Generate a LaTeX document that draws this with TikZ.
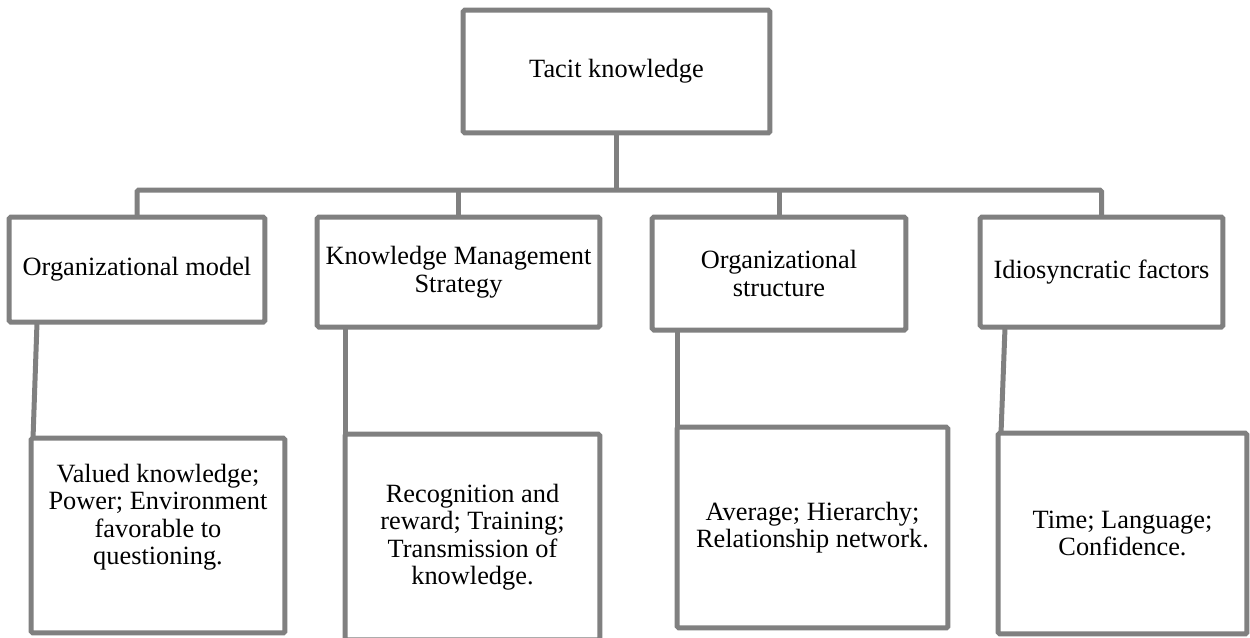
\documentclass[tikz,border=0pt]{standalone}
\usepackage{fontspec}
\setmainfont{Liberation Serif}
\usetikzlibrary{positioning}

\definecolor{boxgray}{RGB}{128,128,128}

\tikzset{
  box/.style={draw=boxgray,line width=0.1cm,rounded corners=1pt,fill=white,
    align=center,inner sep=0pt,outer sep=0pt,font=\fontsize{15}{15.6}\selectfont},
  boxtext/.style={align=center,inner sep=0pt,font=\fontsize{15}{15.6}\selectfont},
  link/.style={draw=boxgray,line width=0.1cm,rounded corners=1pt}
}

\begin{document}
\begin{tikzpicture}[x=0.02cm,y=-0.02cm]
    \useasboundingbox (0,0) rectangle (1250,637);

    \node[box,minimum width=6.14cm,minimum height=2.46cm] (tacit) at (616.5,71.5) {Tacit knowledge};

    % second row
    \node[box,minimum width=5.12cm,minimum height=2.1cm] (model) at (137,269.5) {Organizational model};
    \node[box,minimum width=5.66cm,minimum height=2.2cm] (strategy) at (458.5,272) {Knowledge Management\\Strategy};
    \node[box,minimum width=5.08cm,minimum height=2.26cm] (structure) at (779,273.5) {Organizational\\structure};
    \node[box,minimum width=4.86cm,minimum height=2.2cm] (factors) at (1101.5,272) {Idiosyncratic factors};

    % third row
    \node[box,minimum width=5.08cm,minimum height=3.9cm] (modelItems) at (158,535.5) {};
    \node[boxtext] (modelText) at (158,517) {Valued knowledge;\\Power; Environment\\favorable to\\questioning.};
    \node[box,minimum width=5.1cm,minimum height=4.12cm] (strategyItems) at (472.5,537) {Recognition and\\reward; Training;\\Transmission of\\knowledge.};
    \node[box,minimum width=5.42cm,minimum height=4.02cm] (structureItems) at (812.5,527.5) {Average; Hierarchy;\\Relationship network.};
    \node[box,minimum width=4.98cm,minimum height=4.02cm] (factorsItems) at (1122.5,533.5) {Time; Language;\\Confidence.};

    % tree lines
    \coordinate (bus) at (616.5,190);
    \draw[link] (tacit) -- (bus);
    \draw[link] (model.north) |- (bus) -| (factors.north);
    \draw[link] (strategy.north) -- (strategy.north |- bus);
    \draw[link] (structure.north) -- (structure.north |- bus);

    \draw[link] ([xshift=0.56cm]model.south west) -- ([xshift=0.04cm]modelItems.north west);
    \draw[link] (strategy.south -| strategyItems.north west) -- (strategyItems.north west);
    \draw[link] (structure.south -| structureItems.north west) -- (structureItems.north west);
    \draw[link] ([xshift=0.5cm]factors.south west) -- ([xshift=0.06cm]factorsItems.north west);

\end{tikzpicture}
\end{document}
